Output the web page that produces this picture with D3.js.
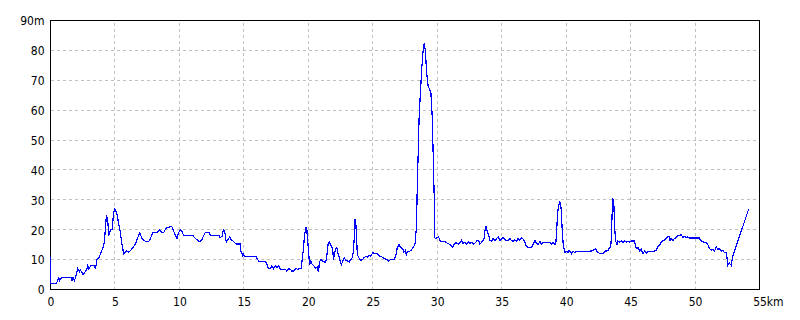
<!DOCTYPE html>
<html>
<head>
<meta charset="utf-8">
<script src="https://cdn.jsdelivr.net/npm/d3@7"></script>
<style>
  html, body { margin: 0; padding: 0; background: #fff; }
  svg { display: block; }
  text { font-family: "Liberation Sans Narrow", "DejaVu Sans Condensed", Arial, sans-serif; font-size: 12px; fill: #000; }
</style>
</head>
<body>
<svg id="chart" width="800" height="320"></svg>
<script>
// Distance along route (km)
const distanceKm = [
  0,0.02,0.46,0.55,0.65,0.72,0.85,1.6,1.68,1.75,1.86,1.94,2.12,2.25,2.32,2.53,2.71,2.84,2.89,2.97,
  3.15,3.41,3.49,3.61,3.8,3.92,4.08,4.18,4.34,4.44,4.52,4.65,4.78,4.88,4.96,5.11,5.16,5.29,5.42,5.55,
  5.68,5.89,6.02,6.2,6.38,6.56,6.74,6.92,7.1,7.23,7.41,7.62,7.75,7.93,8.26,8.47,8.65,8.78,8.96,9.3,
  9.42,9.6,9.71,9.81,9.94,10.07,10.2,10.33,11.05,11.23,11.57,11.75,12.0,12.3,12.45,13.1,13.15,13.3,13.43,13.5,
  13.55,13.63,13.8,13.89,14.0,14.23,14.3,14.4,14.72,14.77,14.92,14.97,15.05,15.96,16.06,16.2,16.65,16.78,16.86,17.04,
  17.17,17.3,17.43,17.56,17.7,17.82,18.2,18.33,18.46,18.59,18.72,18.85,19.06,19.16,19.44,19.54,19.62,19.7,19.8,19.88,
  19.93,20.0,20.05,20.09,20.2,20.3,20.43,20.58,20.7,20.79,20.86,20.97,21.13,21.3,21.4,21.53,21.64,21.74,21.82,21.9,
  21.95,22.0,22.12,22.2,22.28,22.4,22.48,22.57,22.67,22.8,22.9,23.03,23.18,23.28,23.41,23.5,23.57,23.62,23.67,23.73,
  23.8,23.93,24.06,24.19,24.32,24.48,24.61,24.71,24.84,24.9,25.0,25.1,25.36,25.5,25.77,25.87,26.13,26.23,26.39,26.67,
  26.8,26.9,27.03,27.16,27.31,27.42,27.52,27.6,27.69,27.87,28.03,28.19,28.3,28.4,28.45,28.53,28.6,28.71,28.79,28.87,
  28.92,28.99,29.07,29.12,29.18,29.3,29.43,29.51,29.61,29.69,29.77,29.82,29.87,30.0,30.1,30.18,30.26,30.5,30.7,30.78,
  30.93,31.11,31.2,31.3,31.45,31.62,31.8,31.89,32.0,32.14,32.27,32.4,32.53,32.71,32.84,33.0,33.1,33.25,33.31,33.44,
  33.56,33.64,33.7,33.77,33.87,33.98,34.08,34.21,34.34,34.47,34.73,34.86,35.0,35.13,35.32,35.5,35.63,35.76,35.89,36.02,
  36.15,36.27,36.4,36.53,36.66,36.79,36.92,37.05,37.31,37.44,37.57,37.7,37.83,37.96,38.09,38.22,38.42,38.73,38.86,38.99,
  39.12,39.2,39.25,39.32,39.4,39.5,39.57,39.63,39.68,39.76,39.84,39.91,40.02,40.15,40.23,40.33,40.41,40.54,40.67,40.8,
  41.57,41.83,42.08,42.21,42.28,42.39,42.55,42.73,42.86,42.99,43.25,43.33,43.46,43.51,43.56,43.61,43.69,43.74,43.79,43.84,
  43.95,44.02,44.15,44.28,44.41,44.54,44.67,44.8,44.93,45.06,45.31,45.39,45.49,45.57,45.7,45.83,45.96,46.09,46.22,46.35,
  46.47,46.73,47.0,47.12,47.25,47.38,47.51,47.64,47.77,47.9,47.97,48.05,48.15,48.28,48.41,48.54,48.67,48.75,48.93,49.06,
  49.19,49.32,49.45,49.57,50.35,50.43,50.6,50.73,50.86,50.99,51.12,51.25,51.38,51.51,51.64,51.77,51.9,52.03,52.16,52.29,
  52.42,52.49,52.54,52.67,52.8,52.88,52.98,54.17
];
// Elevation (m)
const elevationM = [
  11,2,2,3,4,3,4,4,3,4,3,4,7,6,6.5,5,6,7,8,7,
  8,8,7,10,11,12.5,14,16,25,23,18,20,20,25,27,26,25,22,19,15,
  12,13,12.5,13,14,15,17,19,17,16.5,16,16,17,19,19,20,19,19,20.5,21,
  21,19,18,17,19,20,19.5,18,18,17.1,16,16.8,19,19,18,18,17.3,17.8,20.3,19,
  18.8,15.9,16.8,17.6,16.8,15.9,15.6,15.2,15.2,12.9,11.2,11.7,11,11,10.1,9.3,9.3,8.7,7.3,7,
  7.9,7,7.9,7.3,7.9,6.8,6.8,6.2,7,6.8,6.2,6.2,7,6.8,7,10.7,13.4,17.9,20.7,20.5,
  17.1,14,11,8.1,9.5,8.4,7.9,7.1,7.5,5.8,9.1,10,9.5,9.1,10,15.1,15.9,14.9,14.2,12.9,
  10,11.2,13.8,14.1,12.5,10.6,9.5,8.4,9.5,10.6,9.8,9.5,9.1,10,10.6,12.9,17.9,23.7,22.9,18.9,
  11.7,10.6,9.8,10,10.6,11.2,10.8,11.4,11.2,11.7,12.2,12.2,11.9,11.2,10.8,10.3,10,9.5,10,10,
  11.7,14,15.1,14,13.7,12.5,13,11.7,12.8,12.8,13.4,14.5,15.6,22.3,34.5,46.8,58.4,66.8,73.4,77.9,
  80.6,82.3,80.1,76.8,72.3,67.9,66.8,65.7,57.9,44.5,30.1,17.3,17,17.3,17.7,16.8,16,16,15.8,15.5,
  15.2,14.5,14,15,15.8,15.2,15.8,16.4,15.5,15.8,15.2,16,15.5,15.8,15.2,15.8,16.4,16.1,15.2,15.8,
  16.4,17.3,19.6,21.2,19.6,18.4,16.5,16.2,17.1,16.4,17.6,16.4,17.1,17.3,16.4,16.4,17.1,16.4,16.1,16.6,
  16.1,17.1,16.4,17.3,16.9,15.8,14.5,14,14,15.2,16.4,15.6,15,16.1,15.2,15.8,15.8,15.8,15.2,15.8,
  15,15.5,18.4,24.5,27.9,29.2,29,25.9,21.2,15.7,13.7,12.3,12.8,12.3,13,12.5,12,12.8,12.3,12.8,
  12.8,12.8,13,13.4,13.7,12.8,12.2,12,12,12.8,13,13.7,14.1,17.9,24.5,30.3,30.1,23.7,19,16.2,
  15.1,16.2,15.8,16.2,15.8,16.4,15.8,16.2,15.8,16.2,16.2,14.3,13.7,14.1,12.8,13.4,12,12.8,12.2,12.8,
  12.8,12.8,13,14.5,14.8,15.8,16.4,16.6,17.1,17.6,17.9,16.4,17.1,16.4,17.1,17.3,18.2,17.9,18.4,17.3,
  17.8,17.3,17.6,17.2,17.2,16.4,16,15.6,15.8,15,13.7,13.2,13.4,12.8,14.3,13.4,13.7,12.8,13,12.3,
  12.4,10.1,8.1,8.8,8.1,10.1,11.8,27
];
const xTicks = [0,5,10,15,20,25,30,35,40,45,50,55];
const yTicks = [0,10,20,30,40,50,60,70,80,90];
const xUnit = "km";
const yUnit = "m";

const svg = d3.select("#chart");
const plotL = 50.5, plotR = 759.5, plotT = 20.5, plotB = 289.5;
const x = d3.scaleLinear().domain([0, 55]).range([plotL, plotR]);
const y = d3.scaleLinear().domain([0, 90]).range([plotB, plotT]);

// grid
const grid = svg.append("g").attr("stroke", "#c0c0c0").attr("stroke-width", 1)
  .attr("stroke-dasharray", "3,3").attr("shape-rendering", "crispEdges");
grid.selectAll("line.v").data(xTicks.filter(d => d > 0 && d < 55)).join("line")
  .attr("class", "v")
  .attr("x1", d => Math.round(x(d) - 0.5) + 0.5).attr("x2", d => Math.round(x(d) - 0.5) + 0.5)
  .attr("y1", plotB).attr("y2", plotT);
grid.selectAll("line.h").data(yTicks.filter(d => d > 0 && d < 90)).join("line")
  .attr("class", "h")
  .attr("y1", d => Math.round(y(d) - 0.5) + 0.5).attr("y2", d => Math.round(y(d) - 0.5) + 0.5)
  .attr("x1", plotL).attr("x2", plotR);

// frame
svg.append("rect")
  .attr("x", plotL).attr("y", plotT)
  .attr("width", plotR - plotL).attr("height", plotB - plotT)
  .attr("fill", "none").attr("stroke", "#000").attr("stroke-width", 1)
  .attr("shape-rendering", "crispEdges");

// profile line (drawn over the frame)
const n = Math.min(distanceKm.length, elevationM.length);
const pts = d3.range(n).map(i => [distanceKm[i], elevationM[i]]);
const line = d3.line().x(d => x(d[0])).y(d => y(d[1]));
svg.append("path").datum(pts)
  .attr("d", line)
  .attr("fill", "none")
  .attr("stroke", "#0000ff")
  .attr("stroke-width", 1.2)
  .attr("stroke-linejoin", "miter")
  .attr("shape-rendering", "crispEdges");

// axes (labels only)
const yAxis = d3.axisLeft(y).tickValues(yTicks).tickSize(0).tickPadding(6)
  .tickFormat(d => d === 90 ? d + yUnit : d);
const gy = svg.append("g").attr("transform", `translate(${plotL},0)`).call(yAxis);
gy.select(".domain").remove();
gy.selectAll("text").attr("font-family", null).attr("font-size", null).attr("x", -6).attr("dy", "0.36em");

const xAxis = d3.axisBottom(x).tickValues(xTicks).tickSize(0).tickPadding(8)
  .tickFormat(d => d);
const gx = svg.append("g").attr("transform", `translate(0,${plotB})`).call(xAxis);
gx.select(".domain").remove();
gx.selectAll("text").attr("font-family", null).attr("font-size", null);
gx.selectAll(".tick").filter(d => d === 55).select("text").each(function() {
  const t = d3.select(this);
  const w = this.getComputedTextLength();
  t.attr("text-anchor", "start").attr("x", -w / 2);
  t.append("tspan").text(xUnit);
});
</script>
</body>
</html>
